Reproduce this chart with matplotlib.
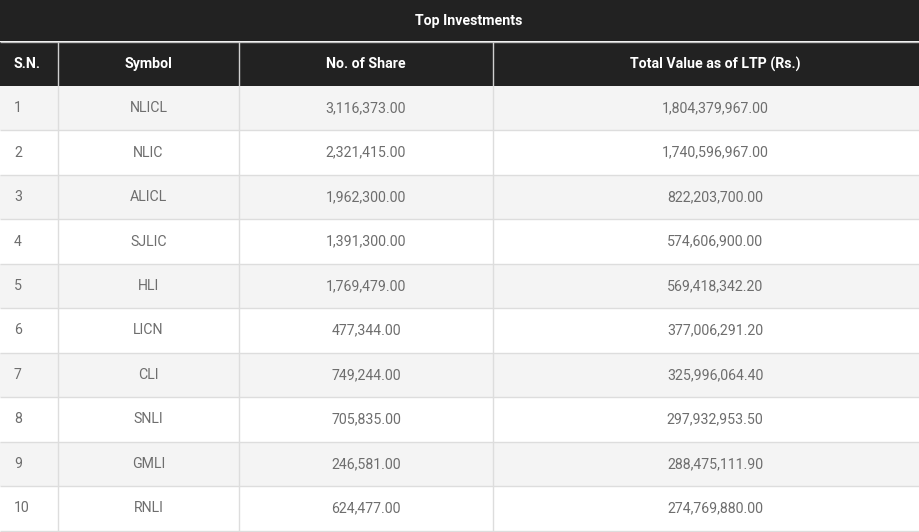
import matplotlib.pyplot as plt
from matplotlib.patches import Rectangle

# ========================= Data =========================
title = "Top Investments"
headers = ["S.N.", "Symbol", "No. of Share", "Total Value as of LTP (Rs.)"]
serial_no = [1, 2, 3, 4, 5, 6, 7, 8, 9, 10]
symbols = ["NLICL", "NLIC", "ALICL", "SJLIC", "HLI", "LICN", "CLI", "SNLI", "GMLI", "RNLI"]
no_of_share = [3116373.00, 2321415.00, 1962300.00, 1391300.00, 1769479.00,
               477344.00, 749244.00, 705835.00, 246581.00, 624477.00]
total_value = [1804379967.00, 1740596967.00, 822203700.00, 574606900.00, 569418342.20,
               377006291.20, 325996064.40, 297932953.50, 288475111.90, 274769880.00]

# ========================= Layout =========================
W, H = 919, 532
col_edges = [0, 58, 239, 493, 937]
title_h = 41
head_top, head_bot = 42, 85
row_top = 86
row_h = 44.45

dark = "#222222"
text_grey = "#6e6e6e"
line_grey = "#dddddd"
stripe = "#f4f4f4"
fs = 10.2

plt.rcParams['font.family'] = ['Roboto', 'DejaVu Sans']

fig = plt.figure(figsize=(W / 100, H / 100), dpi=100)
ax = fig.add_axes([0, 0, 1, 1])
ax.set_xlim(0, W)
ax.set_ylim(H, 0)
ax.axis("off")

# title bar
ax.add_patch(Rectangle((0, 0), W, title_h, color=dark, lw=0))
ax.hlines(title_h + 0.5, 0, W, color="#bbbbbb", lw=1)
ax.text(col_edges[-1] / 2, title_h / 2, title, color="white", fontsize=fs,
        fontweight="bold", ha="center", va="center")

# header row
ax.add_patch(Rectangle((0, head_top), W, head_bot - head_top + 1, color=dark, lw=0))
for x in col_edges[1:-1]:
    ax.vlines(x, head_top, head_bot + 1, color="#d0d0d0", lw=1)
for i, h in enumerate(headers):
    cy = (head_top + head_bot) / 2 + 0.5
    if i == 0:
        ax.text(14, cy, h, color="white", fontsize=fs, fontweight="bold",
                ha="left", va="center")
    else:
        cx = (col_edges[i] + col_edges[i + 1]) / 2
        ax.text(cx, cy, h, color="white", fontsize=fs, fontweight="bold",
                ha="center", va="center")

# body rows
for r in range(len(symbols)):
    top = row_top + r * row_h
    if r % 2 == 0:
        ax.add_patch(Rectangle((0, top), W, row_h, color=stripe, lw=0))
    ax.hlines(top + row_h, 0, W, color=line_grey, lw=1)
    for x in col_edges[1:-1]:
        ax.vlines(x, top, top + row_h, color=line_grey, lw=1)
    cy = top + row_h / 2
    cells = [str(serial_no[r]), symbols[r], f"{no_of_share[r]:,.2f}", f"{total_value[r]:,.2f}"]
    for i, c in enumerate(cells):
        if i == 0:
            ax.text(14, cy, c, color=text_grey, fontsize=fs, ha="left", va="center")
        else:
            cx = (col_edges[i] + col_edges[i + 1]) / 2
            ax.text(cx, cy, c, color=text_grey, fontsize=fs, ha="center", va="center")

fig.savefig("out.png", dpi=100, facecolor="white")
